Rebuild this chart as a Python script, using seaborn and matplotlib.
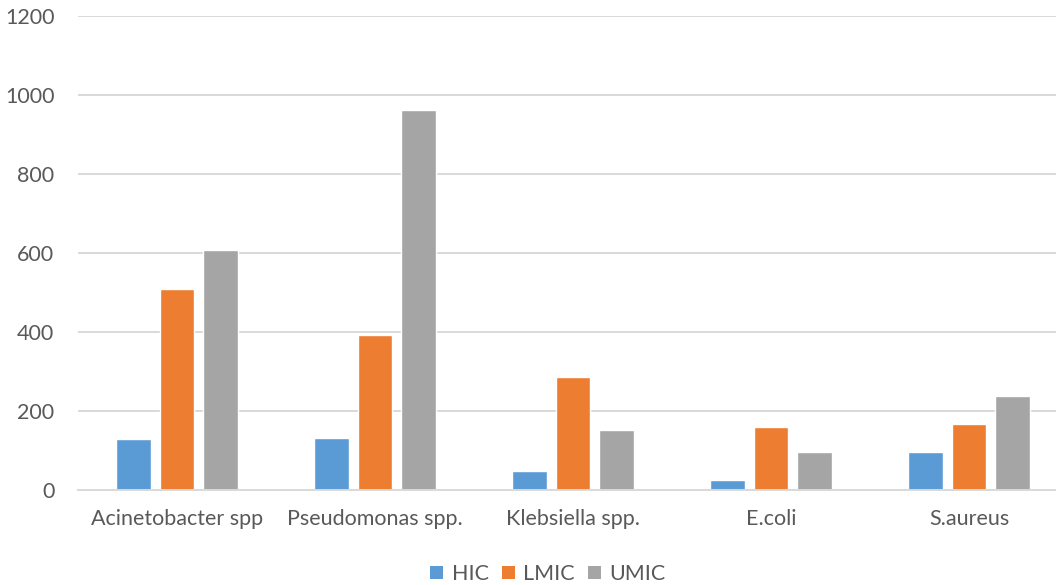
import matplotlib
matplotlib.use("Agg")
import matplotlib.pyplot as plt
import seaborn as sns
import pandas as pd
from matplotlib.patches import Patch

# Organisms and counts per income group
organisms = ["Acinetobacter spp", "Pseudomonas spp.", "Klebsiella spp.", "E.coli", "S.aureus"]
groups = ["HIC", "LMIC", "UMIC"]
hic = [129, 130, 48, 25, 94]
lmic = [509, 391, 284, 158, 167]
umic = [608, 963, 151, 96, 237]
y_ticks = [0, 200, 400, 600, 800, 1000, 1200]
colors = ["#5B9BD5", "#ED7D31", "#A5A5A5"]

df = pd.DataFrame({
    "organism": organisms * 3,
    "group": [g for g in groups for _ in organisms],
    "count": hic + lmic + umic,
})

sns.set_theme(style="white")
plt.rcParams["font.family"] = ["Lato", "DejaVu Sans"]
text_color = "#595959"
grid_color = "#D9D9D9"
font_size = 15.5

fig = plt.figure(figsize=(10.56, 5.85), dpi=100)
ax = fig.add_axes([78 / 1056, 95.5 / 585, (1056 - 78) / 1056, 473.5 / 585])

sns.barplot(data=df, x="organism", y="count", hue="group", order=organisms,
            hue_order=groups, palette=colors, width=0.66, gap=0.2,
            saturation=1, legend=False, ax=ax)

ax.set_ylim(0, 1200)
ax.set_xlim(-0.5, 4.5 - 12 / 198)
ax.set_yticks(y_ticks)
ax.set_yticklabels([str(t) for t in y_ticks])
ax.yaxis.grid(True, color=grid_color, linewidth=1.4)
ax.set_axisbelow(True)
for side in ["top", "right", "left"]:
    ax.spines[side].set_visible(False)
ax.spines["bottom"].set_color(grid_color)
ax.spines["bottom"].set_linewidth(1.4)
ax.set_xlabel("")
ax.set_ylabel("")
ax.tick_params(axis="y", length=0, pad=17, labelsize=font_size, labelcolor=text_color)
ax.tick_params(axis="x", length=0, pad=14, labelsize=font_size, labelcolor=text_color)

handles = [Patch(facecolor=c, edgecolor="none") for c in colors]
fig.legend(handles, groups, loc="center", bbox_to_anchor=(548 / 1056, 11 / 585),
           ncol=3, frameon=False, fontsize=font_size, labelcolor=text_color,
           handlelength=0.6, handleheight=0.6, handletextpad=0.4, columnspacing=0.6)

fig.savefig("out.png", dpi=100)
